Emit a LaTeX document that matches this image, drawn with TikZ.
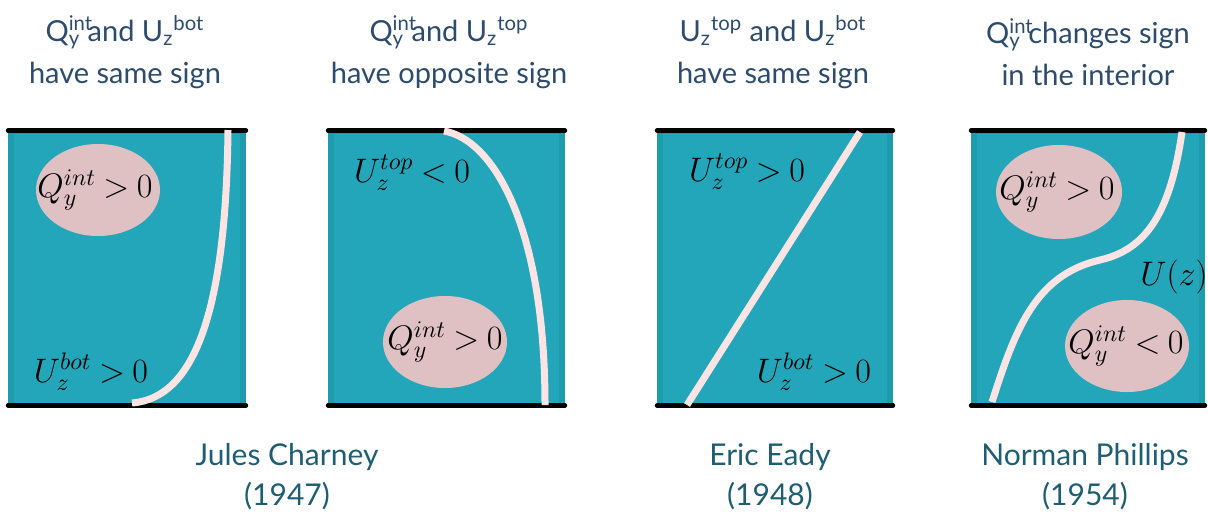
\RequirePackage{fix-cm}
\documentclass[tikz,border=0pt]{standalone}
\usepackage{fontspec}
\setsansfont{Lato}
\usepackage{amsmath}
\definecolor{panelfill}{HTML}{23A6B9}
\definecolor{paneledge}{HTML}{1E9CAE}
\definecolor{blobfill}{HTML}{DFC1C3}
\definecolor{curvecol}{HTML}{FCE4E5}
\definecolor{headtext}{HTML}{2D4B6D}
\definecolor{nametext}{HTML}{1F5E72}
\newcommand{\bigmath}{\fontsize{17}{20}\selectfont\thickmuskip=4mu plus 2mu}

\begin{document}
\begin{tikzpicture}[x=0.5pt,y=-0.5pt,
  heading/.style={font=\sffamily\fontsize{14.5}{21}\selectfont, text=headtext, align=center},
  namelabel/.style={font=\sffamily\fontsize{15}{20}\selectfont, text=nametext, align=center},
  blob/.style={fill=blobfill},
  lab/.style={font=\bigmath, inner sep=0pt},
  ucurve/.style={line width=3.5pt, draw=curvecol}]
\useasboundingbox (0,0) rectangle (1208,515);

% the four channels
\foreach \a/\b in {8/246, 328/565, 657/893, 971/1205}{
  \fill[paneledge] (\a,130) rectangle (\b,406);
  \fill[panelfill] (\a+6,134) rectangle (\b-6,406);
  \draw[line width=2.2pt, line cap=round] (\a,130.5) -- (\b,130.5) (\a,405.5) -- (\b,405.5);
}

\coordinate[] (A1) at (132,403);
\coordinate[] (A2) at (228,130);
\coordinate[] (B1) at (444,131);
\coordinate[] (B2) at (545,405);
\coordinate[] (C1) at (687,405);
\coordinate[] (C2) at (860,132);
\coordinate[] (D1) at (992,402);
\coordinate[] (D2) at (1100,260);
\coordinate[] (D3) at (1182,132);

% U(z) profiles
\draw[ucurve] (A1) .. controls (195,398) and (226,310) .. (A2);
\draw[ucurve] (B1) .. controls (495,140) and (545,230) .. (B2);
\draw[ucurve] (C1) -- (C2);
\draw[ucurve] (D1) .. controls (1015,330) and (1035,275) .. (D2)
  .. controls (1145,249.6) and (1170,215) .. (D3);

% interior PV gradient blobs
\fill[blob] (98,190) ellipse [x radius=62, y radius=46];
\fill[blob] (445,342) ellipse [x radius=62, y radius=46];
\fill[blob] (1059,192) ellipse [x radius=63, y radius=47];
\fill[blob] (1127,346) ellipse [x radius=62, y radius=46];

\node[lab] (q1) at (95,190) {$Q_y^{int} > 0$};
\node[lab] (q2) at (445,342) {$Q_y^{int} > 0$};
\node[lab] (q3) at (1057,192) {$Q_y^{int} > 0$};
\node[lab] (q4) at (1126,346) {$Q_y^{int} < 0$};

\node[lab] (u1) at (91,372) {$U_z^{bot} > 0$};
\node[lab] (u2) at (412,173) {$U_z^{top} < 0$};
\node[lab] (u3) at (747,172) {$U_z^{top} > 0$};
\node[lab] (u4) at (814,372) {$U_z^{bot} > 0$};
\node[lab] (u5) at (1174,277) {$U(z)$};

\node[heading] (h1) at (125,52) {Q\rlap{\textsuperscript{int}}\textsubscript{y} and U\textsubscript{z}\textsuperscript{bot}\\have same sign};
\node[heading] (h2) at (449,52) {Q\rlap{\textsuperscript{int}}\textsubscript{y} and U\textsubscript{z}\textsuperscript{top}\\have opposite sign};
\node[heading] (h3) at (773,52) {U\textsubscript{z}\textsuperscript{top} and U\textsubscript{z}\textsuperscript{bot}\\have same sign};
\node[heading] (h4) at (1088,52) {Q\rlap{\textsuperscript{int}}\textsubscript{y} changes sign\\in the interior};

\node[namelabel] (n1) at (287,477) {Jules Charney\\(1947)};
\node[namelabel] (n2) at (770,477) {Eric Eady\\(1948)};
\node[namelabel] (n3) at (1085,477) {Norman Phillips\\(1954)};

\end{tikzpicture}
\end{document}
